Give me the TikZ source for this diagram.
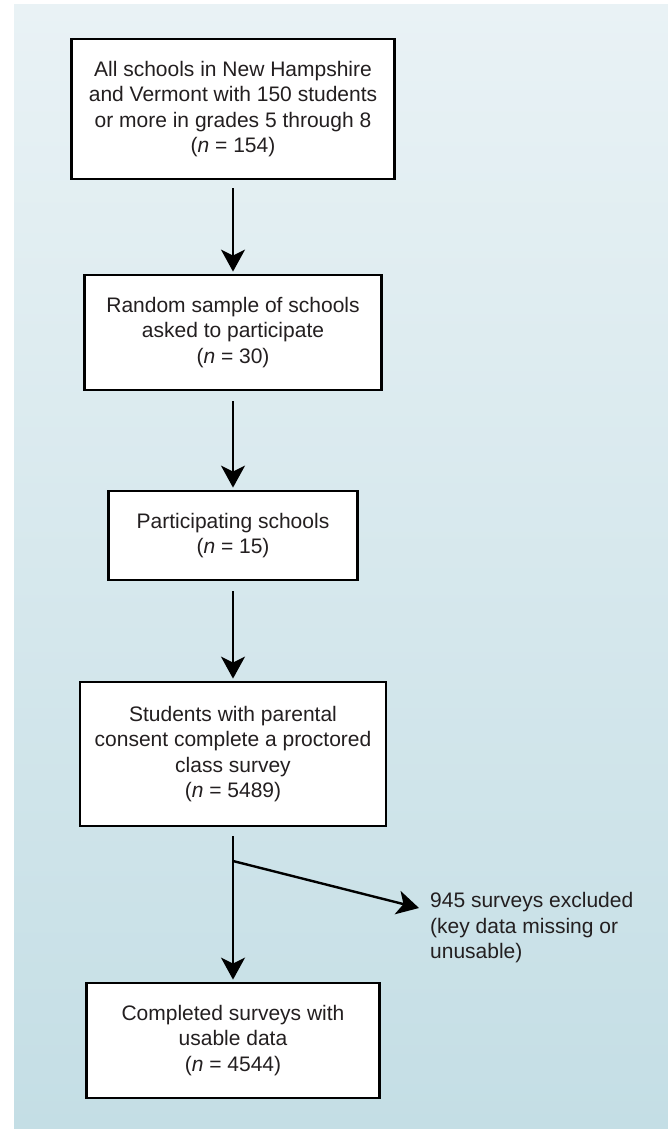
\documentclass[tikz,border=0pt]{standalone}
\usepackage{fontspec}
\setmainfont{Liberation Sans}
\usetikzlibrary{arrows.meta}
\definecolor{bgtop}{HTML}{E9F2F5}
\definecolor{bgbot}{HTML}{C4DEE5}
\definecolor{txt}{HTML}{231F20}
\begin{document}
\begin{tikzpicture}[x=1pt,y=-1pt,
  box/.style={draw=black, line width=2.8pt, fill=white, align=center, text=txt,
    inner sep=0pt, font=\fontsize{21}{25.5}\selectfont},
  arr/.style={line width=2.4pt, draw=black, -{Stealth[length=22pt,width=24pt,inset=6pt]}},
  lbl/.style={align=left, anchor=west, inner sep=0pt, text=txt, font=\fontsize{21}{25.5}\selectfont}]
\useasboundingbox (0,0) rectangle (668,1129);
\fill[top color=bgtop, bottom color=bgbot] (14,5) rectangle (668,1129);

\node[box, minimum width=323pt, minimum height=140pt] (b1) at (233,109)
  {All schools in New Hampshire\\and Vermont with 150 students\\or more in grades 5 through 8\\(\textit{n} = 154)};
\node[box, minimum width=297pt, minimum height=115pt] (b2) at (233,332.5)
  {Random sample of schools\\asked to participate\\(\textit{n} = 30)};
\node[box, minimum width=249pt, minimum height=89pt] (b3) at (233,535.5)
  {Participating schools\\(\textit{n} = 15)};
\node[box, minimum width=306pt, minimum height=144pt] (b4) at (233,754)
  {Students with parental\\consent complete a proctored\\class survey\\(\textit{n} = 5489)};
\node[box, minimum width=293pt, minimum height=115pt] (b5) at (233,1040.5)
  {Completed surveys with\\usable data\\(\textit{n} = 4544)};
\node[lbl] (ex) at (430,928) {945 surveys excluded\\(key data missing or\\unusable)};

\coordinate (br) at (233,861);
\coordinate (tip) at (419,908);

\draw[arr] ([yshift=-8pt]b1.south) -- ([yshift=2pt]b2.north);
\draw[arr] ([yshift=-10pt]b2.south) -- ([yshift=2pt]b3.north);
\draw[arr] ([yshift=-10pt]b3.south) -- ([yshift=2pt]b4.north);
\draw[arr] ([yshift=-9pt]b4.south) -- ([yshift=2pt]b5.north);
\draw[arr] (br) -- (tip);
\end{tikzpicture}
\end{document}
